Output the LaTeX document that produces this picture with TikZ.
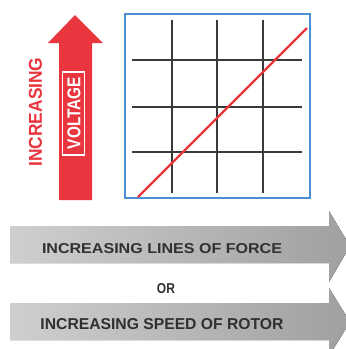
\documentclass[tikz,border=0pt]{standalone}
\usepackage{fontspec}
\setmainfont{Liberation Sans}
\usepackage{graphicx}
\definecolor{vred}{HTML}{E8353E}
\definecolor{gblue}{HTML}{4A8FD2}
\definecolor{gline}{HTML}{3A3A3A}
\definecolor{gtxt}{HTML}{303030}
\definecolor{glight}{HTML}{CFCFCF}
\definecolor{gdark}{HTML}{A0A0A2}
\tikzset{
  gridline/.style={gline, line width=1.8pt},
  grayarrow/.style={left color=glight, right color=gdark, draw=none},
  lbl/.style={inner sep=0pt, text=gtxt}
}
\begin{document}
\begin{tikzpicture}[x=1pt,y=-1pt]
\useasboundingbox (0,0) rectangle (346,349);
\fill[white] (0,0) rectangle (346,349);
% red arrow
\fill[vred] (59,200) -- (59,43) -- (48,43) -- (75,15) -- (103,43) -- (92,43) -- (92,200) -- cycle;
\node[inner sep=0pt, rotate=90, text=vred] (inc) at (35.5,112) {\resizebox{109pt}{13pt}{\bfseries INCREASING}};
\node[draw=white, line width=1.2pt, minimum width=83pt, minimum height=22pt, rotate=90, inner sep=0pt] (volt) at (73.5,113.5) {};
\node[inner sep=0pt, rotate=90, text=white] (vtxt) at (74,113) {\resizebox{72pt}{13pt}{\bfseries VOLTAGE}};
% grid
\node[draw=gblue, line width=1.8pt, minimum width=185pt, minimum height=184pt, inner sep=0pt] (box) at (217.5,106) {};
\foreach \x in {172,217,263} \draw[gridline] (\x,20) -- (\x,193);
\foreach \y in {60,107,152} \draw[gridline] (132,\y) -- (302,\y);
\draw[vred, line width=2.4pt] (138,197) -- (307,28);
% gray arrows
\fill[grayarrow] (10,226) -- (329,226) -- (329,211) -- (350,246) -- (329,282) -- (329,263) -- (10,263) -- cycle;
\fill[grayarrow] (10,303) -- (329,303) -- (329,288) -- (350,322) -- (329,356) -- (329,340) -- (10,340) -- cycle;
\node[lbl] (t1) at (162,249) {\resizebox{240pt}{10pt}{\bfseries INCREASING LINES OF FORCE}};
\node[lbl] (or) at (166,288.5) {\resizebox{18pt}{10pt}{\bfseries OR}};
\node[lbl] (t2) at (162,324) {\resizebox{243pt}{11pt}{\bfseries INCREASING SPEED OF ROTOR}};
\end{tikzpicture}
\end{document}
